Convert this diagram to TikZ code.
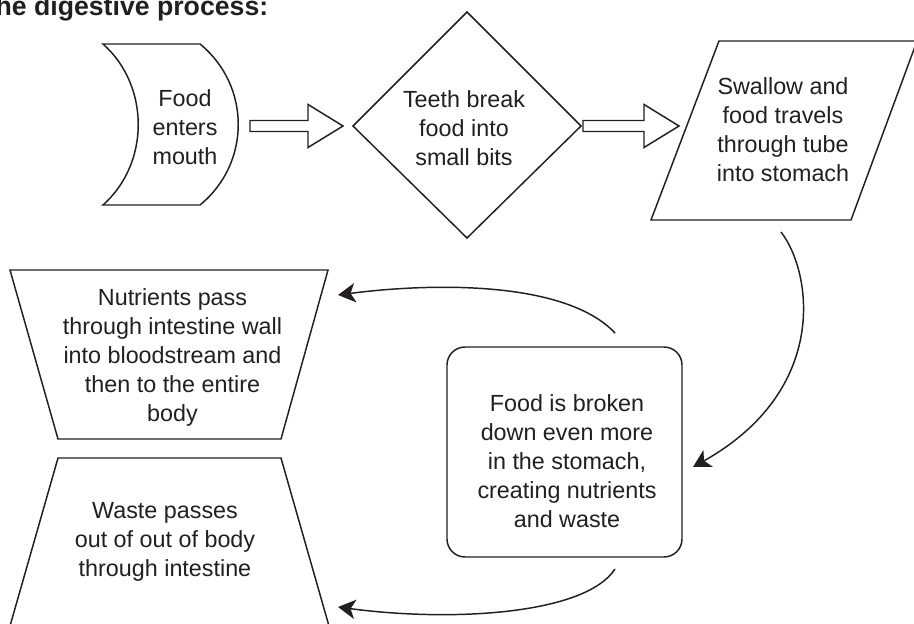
\documentclass[tikz,border=0pt]{standalone}
\usepackage{fontspec}
\setmainfont{Liberation Sans}
\usetikzlibrary{arrows.meta,calc}
\definecolor{ink}{RGB}{35,31,32}
\begin{document}
\begin{tikzpicture}[x=0.75pt,y=-0.75pt,
  shp/.style={draw=ink, line width=1.1pt, fill=white, line join=miter},
  txt/.style={font=\fontsize{17.5}{21.75}\selectfont, text=ink, align=center, inner sep=0pt},
  conn/.style={draw=ink, line width=1.1pt, -{Stealth[length=13pt,width=14.5pt,inset=3.5pt]}},
  hollow/.style={draw=ink, line width=1.1pt, fill=white, line join=miter}]
\useasboundingbox (0,0) rectangle (914,624);

% title (cut off at the top-left edge, as in the reference)
\node[anchor=base west, font=\bfseries\fontsize{20}{24}\selectfont, text=ink, inner sep=0pt] (title) at (-21,16) {The digestive process:};

% shapes
\draw[shp] (103,44) -- (200,44) .. controls (251,85.7) and (251,163.3) .. (200,205)
  -- (103,205) .. controls (150,163.3) and (150,85.7) .. (103,44) -- cycle;
\draw[shp] (467,12) -- (581,126) -- (467,238) -- (353,126) -- cycle;
\draw[shp] (719,41) -- (917,41) -- (851,220) -- (651,220) -- cycle;
\draw[shp] (10,270) -- (328,270) -- (281,439) -- (58,439) -- cycle;
\draw[shp] (58,458) -- (281,458) -- (333,640) -- (6,640) -- cycle;
\draw[shp, rounded corners=13.5pt] (447,347) rectangle (682,557);

% texts
\node[txt] (mouth) at (185,127.5) {Food\\enters\\mouth};
\node[txt] (teeth) at (464,128) {Teeth break\\food into\\small bits};
\node[txt] (swallow) at (783,129.5) {Swallow and\\food travels\\through tube\\into stomach};
\node[txt] (stomach) at (567,461.5) {Food is broken\\down even more\\in the stomach,\\creating nutrients\\and waste};
\node[txt] (nutrients) at (172.5,357.5) {Nutrients pass\\through intestine wall\\into bloodstream and\\then to the entire\\body};
\node[txt] (waste) at (165,542) {Waste passes\\out of out of body\\through intestine};

% hollow arrows
\coordinate (a1s) at (250,126);
\coordinate (a1e) at (343,126);
\coordinate (a2s) at (583,126);
\coordinate (a2e) at (679,126);
\foreach \s/\e in {a1s/a1e, a2s/a2e}{
  \draw[hollow] ($(\s)+(0,-5.5)$) -- ($(\e)+(-35,-5.5)$) -- ($(\e)+(-35,-21.5)$) -- (\e)
    -- ($(\e)+(-35,21.5)$) -- ($(\e)+(-35,5.5)$) -- ($(\s)+(0,5.5)$) -- cycle;
}

% curved connectors
\coordinate (c1s) at (781,232);
\coordinate (c1e) at (693,467);
\coordinate (c2s) at (615,333);
\coordinate (c2e) at (338,295);
\coordinate (c3s) at (615,569);
\coordinate (c3e) at (338,607);
\draw[conn] (c1s) .. controls (812,272) and (830,390) .. (c1e);
\draw[conn] (c2s) .. controls (565,280) and (430,283) .. (c2e);
\draw[conn] (c3s) .. controls (585,615) and (450,622) .. (c3e);
\end{tikzpicture}
\end{document}
